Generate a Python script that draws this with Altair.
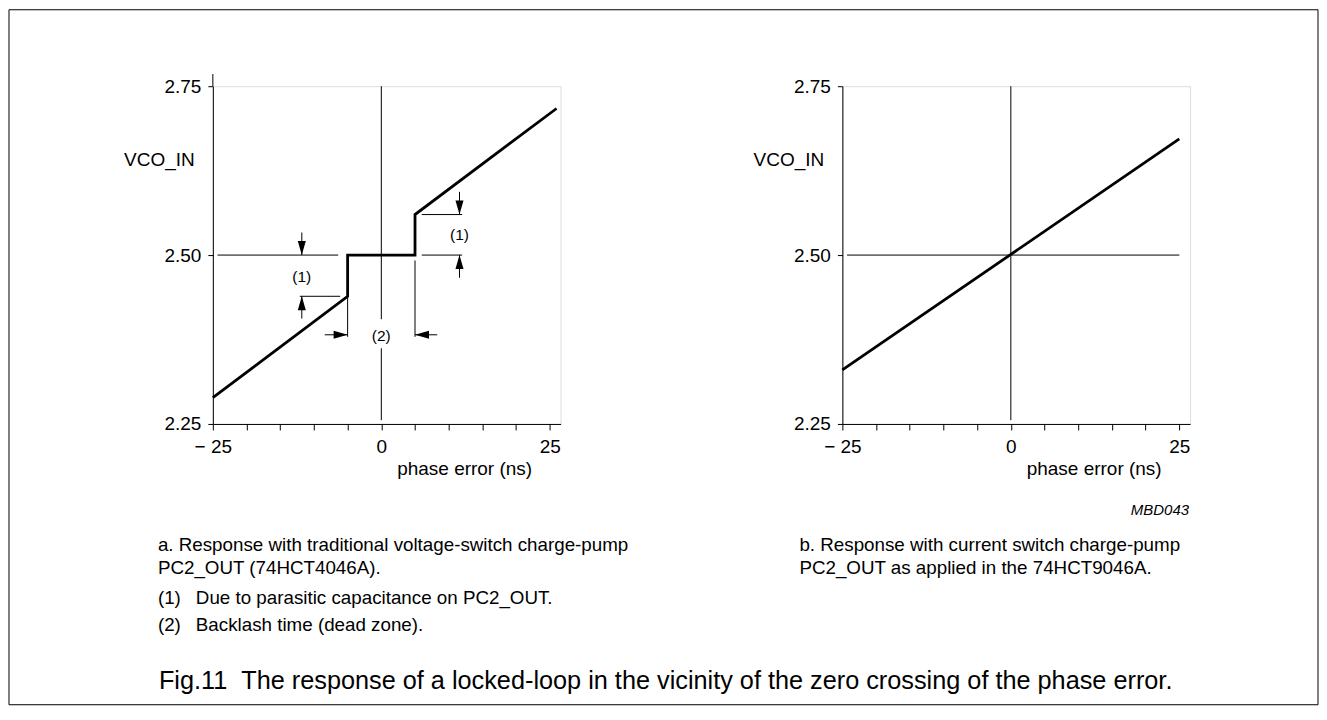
import altair as alt
import pandas as pd

FONT = "Liberation Sans"

# ---------------- data ----------------
x_ticks = [-25, -20, -15, -10, -5, 0, 5, 10, 15, 20, 25]
y_ticks = [2.25, 2.50, 2.75]

# panel a: response with traditional voltage-switch charge pump
a_phase = [-25, -5, -5, 5, 5, 26]
a_vco = [2.289, 2.439, 2.50, 2.50, 2.56, 2.717]

# panel a: guide / dimension lines (phase from, phase to, vco from, vco to)
a_g_x1 = [-24.3, 6.0, -12.1, 6.0, 0, 0, -5, 5, -25]
a_g_x2 = [-6.4, 12.0, -6.1, 12.0, 0, 0, -5, 5, -25]
a_g_y1 = [2.50, 2.50, 2.439, 2.56, 2.75, 2.362, 2.439, 2.492, 2.75]
a_g_y2 = [2.50, 2.50, 2.439, 2.56, 2.405, 2.2555, 2.379, 2.379, 2.768]

# panel a: dimension arrows (tail -> tip)
a_arr_tail_x = [-11.8, -11.8, 11.6, 11.6, -8.4, 8.3]
a_arr_tail_y = [2.5334, 2.406, 2.5936, 2.4664, 2.382, 2.382]
a_arr_tip_x = [-11.8, -11.8, 11.6, 11.6, -5, 5]
a_arr_tip_y = [2.50, 2.439, 2.56, 2.50, 2.382, 2.382]
a_arr_dir = ["down", "up", "down", "up", "right", "left"]

# panel a: note labels
a_note_text = ["(1)", "(1)", "(2)"]
a_note_x = [-11.8, 11.6, 0]
a_note_y = [2.4675, 2.5296, 2.380]

# panel b: response with current switch charge pump
b_phase = [-25, 25]
b_vco = [2.330, 2.672]
b_g_x1 = [-24.3, 0]
b_g_x2 = [25, 0]
b_g_y1 = [2.50, 2.75]
b_g_y2 = [2.50, 2.2555]

# texts
cap_a = ["a. Response with traditional voltage-switch charge-pump",
         "PC2_OUT (74HCT4046A)."]
notes_num = ["(1)", "(2)"]
notes_txt = ["Due to parasitic capacitance on PC2_OUT.",
             "Backlash time (dead zone)."]
cap_b = ["b. Response with current switch charge-pump",
         "PC2_OUT as applied in the 74HCT9046A."]
code_txt = "MBD043"
fig_caption = ("Fig.11\u00a0\u00a0The response of a locked-loop in the vicinity of the "
               "zero crossing of the phase error.")

# ---------------- scales / axes ----------------
XS = alt.Scale(domain=[-25, 26.6], nice=False, zero=False)
YS = alt.Scale(domain=[2.25, 2.75], nice=False, zero=False)

XAXIS = alt.Axis(
    values=x_ticks,
    labelExpr="datum.value == -25 ? '\u2212 25' : ((datum.value == 0 || datum.value == 25) ? datum.label : '')",
    title="phase error (ns)", titleX=251.5, titleY=45, titleAlign="center",
    titleBaseline="middle", titleFontWeight="normal", titleFontSize=19,
    labelFontSize=19, tickSize=6, labelPadding=8, grid=False,
    labelFlush=False, labelOverlap=False,
    domainColor="black", tickColor="black", labelColor="black", titleColor="black",
)
YAXIS = alt.Axis(
    values=y_ticks, format=".2f",
    title="VCO_IN", titleAngle=0, titleX=-54, titleY=73, titleAlign="center",
    titleBaseline="middle", titleFontWeight="normal", titleFontSize=19,
    labelFontSize=19, tickSize=5, labelPadding=7, grid=False, labelFlush=False,
    labelBaseline="middle",
    domainColor="black", tickColor="black", labelColor="black", titleColor="black",
)

W, H = 348, 338


def X(field):
    return alt.X(f"{field}:Q", scale=XS, axis=XAXIS)


def Y(field):
    return alt.Y(f"{field}:Q", scale=YS, axis=YAXIS)


def text_at(txt, x, y, size=18.8, align="left", style="normal"):
    return alt.Chart(pd.DataFrame({"t": [txt]})).mark_text(
        align=align, baseline="middle", fontSize=size, font=FONT,
        fontStyle=style, color="black"
    ).encode(x=alt.value(x), y=alt.value(y), text="t:N")


ARROW = "M -1.15 -4 L 1.15 -4 L 0 0 Z"
ANG = {"down": 0, "up": 180, "left": 90, "right": 270}

# ---------------- panel a ----------------
a_line = alt.Chart(pd.DataFrame({"phase": a_phase, "vco": a_vco,
                                 "k": list(range(len(a_phase)))})).mark_line(
    color="black", strokeWidth=2.8, strokeJoin="miter"
).encode(x=X("phase"), y=Y("vco"), order="k:Q")

a_guides = alt.Chart(pd.DataFrame({"phase": a_g_x1, "phase2": a_g_x2,
                                   "vco": a_g_y1, "vco2": a_g_y2})).mark_rule(
    color="black", strokeWidth=1
).encode(x=X("phase"), x2="phase2:Q", y=Y("vco"), y2="vco2:Q")

a_shafts = alt.Chart(pd.DataFrame({"phase": a_arr_tail_x, "phase2": a_arr_tip_x,
                                   "vco": a_arr_tail_y, "vco2": a_arr_tip_y})).mark_rule(
    color="black", strokeWidth=1
).encode(x=X("phase"), x2="phase2:Q", y=Y("vco"), y2="vco2:Q")

a_heads = alt.Chart(pd.DataFrame({"phase": a_arr_tip_x, "vco": a_arr_tip_y,
                                  "ang": [ANG[d] for d in a_arr_dir]})).mark_point(
    shape=ARROW, filled=True, color="black", opacity=1, size=49, strokeWidth=0
).encode(x=X("phase"), y=Y("vco"), angle=alt.Angle("ang:Q", scale=None))

a_notes = alt.Chart(pd.DataFrame({"phase": a_note_x, "vco": a_note_y,
                                  "t": a_note_text})).mark_text(
    fontSize=15.5, font=FONT, color="black", baseline="middle", align="center"
).encode(x=X("phase"), y=Y("vco"), text="t:N")

border = alt.Chart(pd.DataFrame({"b": [0]})).mark_rect(
    filled=False, color="black", strokeWidth=1
).encode(x=alt.value(-204), x2=alt.value(1106), y=alt.value(-76.5), y2=alt.value(619))

panel_a = alt.layer(
    border, a_guides, a_shafts, a_heads, a_notes, a_line,
    text_at(cap_a[0], -55, 459), text_at(cap_a[1], -55, 482),
    text_at(notes_num[0], -55, 512), text_at(notes_txt[0], -17, 512),
    text_at(notes_num[1], -55, 539), text_at(notes_txt[1], -17, 539),
    text_at(fig_caption, -54, 595, size=25.3),
).properties(width=W, height=H)

# ---------------- panel b ----------------
b_guides = alt.Chart(pd.DataFrame({"phase": b_g_x1, "phase2": b_g_x2,
                                   "vco": b_g_y1, "vco2": b_g_y2})).mark_rule(
    color="black", strokeWidth=1
).encode(x=X("phase"), x2="phase2:Q", y=Y("vco"), y2="vco2:Q")

b_line = alt.Chart(pd.DataFrame({"phase": b_phase, "vco": b_vco})).mark_line(
    color="black", strokeWidth=2.8
).encode(x=X("phase"), y=Y("vco"))

panel_b = alt.layer(
    b_guides, b_line,
    text_at(cap_b[0], -43, 459), text_at(cap_b[1], -43, 482),
    text_at(code_txt, 347, 424, size=15, align="right", style="italic"),
).properties(width=W, height=H)

chart = alt.hconcat(panel_a, panel_b, spacing=282, bounds="flush").properties(
    padding=0, background="white"
).configure_view(stroke=None).configure(font=FONT)

chart.save("out.html", embed_options={"renderer": "svg", "actions": False})
